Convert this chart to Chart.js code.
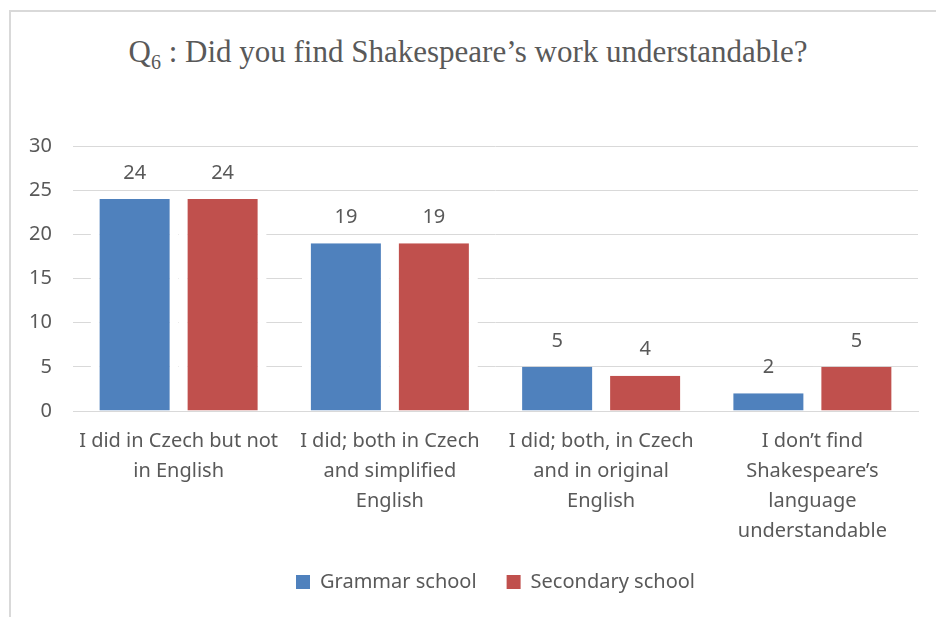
<!DOCTYPE html>
<html>
<head>
<meta charset="utf-8">
<script src="https://cdn.jsdelivr.net/npm/chart.js@4"></script>
<style>
    html, body { margin: 0; padding: 0; background: #fff; }
    #wrap { position: relative; width: 936px; height: 617px; overflow: hidden; }
    #frame { position: absolute; left: 9px; top: 10px; width: 1000px; height: 700px;
             border-left: 2px solid #d9d9d9; border-top: 2px solid #d9d9d9; }
    #title { position: absolute; left: 0; top: 34px; width: 936px; text-align: center;
             font-family: 'Liberation Serif', serif; font-size: 31px; color: #595959; }
    #title sub { font-size: 20px; vertical-align: -7px; line-height: 0; }
    canvas { position: absolute; left: 0; top: 0; }
</style>
</head>
<body>
<div id="wrap">
    <div id="frame"></div>
    <div id="title">Q<sub>6</sub> : Did you find Shakespeare’s work understandable?</div>
    <canvas id="chart-1" width="936" height="617"></canvas>
</div>
<script>
// cau tra loi (nhan truc x, moi dong mot phan tu)
var cauTraLoi = [
    ["I did in Czech but not", "in English"],
    ["I did; both in Czech", "and simplified", "English"],
    ["I did; both, in Czech", "and in original", "English"],
    ["I don’t find", "Shakespeare’s", "language", "understandable"]
];
var grammarSchool = [24, 19, 5, 2];
var secondarySchool = [24, 19, 4, 5];
var yTicks = [0, 5, 10, 15, 20, 25, 30];

var mauChu = "#595959";
var fontChu = "'Noto Sans', 'Open Sans', sans-serif";

// ve so lieu phia tren moi cot
var nhanGiaTri = {
    id: "nhanGiaTri",
    afterDatasetsDraw: function (chart) {
        var ctx = chart.ctx;
        ctx.save();
        ctx.fillStyle = mauChu;
        ctx.font = "20px " + fontChu;
        ctx.textAlign = "center";
        ctx.textBaseline = "middle";
        chart.data.datasets.forEach(function (ds, i) {
            chart.getDatasetMeta(i).data.forEach(function (bar, j) {
                ctx.fillText(ds.data[j], bar.x, bar.y - 26);
            });
        });
        ctx.restore();
    }
};

var ctx = document.getElementById("chart-1").getContext("2d");
var chart = new Chart(ctx, {
    type: "bar",
    data: {
        labels: cauTraLoi,
        datasets: [
            {
                label: "Grammar school",
                data: grammarSchool,
                backgroundColor: "#4f81bd",
                borderColor: "#ffffff",
                borderWidth: { left: 9, right: 9, top: 0, bottom: 0 },
                borderSkipped: false
            },
            {
                label: "Secondary school",
                data: secondarySchool,
                backgroundColor: "#c0504d",
                borderColor: "#ffffff",
                borderWidth: { left: 9, right: 9, top: 0, bottom: 0 },
                borderSkipped: false
            }
        ]
    },
    options: {
        responsive: false,
        animation: false,
        layout: {
            padding: { top: 146, right: 18, bottom: 15, left: 0 }
        },
        datasets: {
            bar: { categoryPercentage: 0.833, barPercentage: 1 }
        },
        scales: {
            x: {
                grid: { display: false, drawTicks: false },
                border: { color: "#d9d9d9", width: 1 },
                ticks: {
                    color: mauChu,
                    font: { family: fontChu, size: 20, lineHeight: 1.5 },
                    padding: 15,
                    maxRotation: 0,
                    autoSkip: false
                },
                afterFit: function (scale) { scale.height = 131; }
            },
            y: {
                min: 0,
                max: 30,
                afterBuildTicks: function (scale) {
                    scale.ticks = yTicks.map(function (v) { return { value: v }; });
                },
                grid: { color: "#d9d9d9", drawTicks: false },
                border: { display: false },
                ticks: {
                    color: mauChu,
                    font: { family: fontChu, size: 20 },
                    padding: 21
                },
                afterFit: function (scale) { scale.width = 73; }
            }
        },
        plugins: {
            legend: {
                position: "bottom",
                fullSize: false,
                labels: {
                    color: mauChu,
                    font: { family: fontChu, size: 20 },
                    boxWidth: 14,
                    boxHeight: 14,
                    padding: 30,
                    useBorderRadius: false,
                    // o mau chu thich khong co vien trang
                    generateLabels: function (chart) {
                        var items = Chart.defaults.plugins.legend.labels.generateLabels(chart);
                        items.forEach(function (it) { it.lineWidth = 0; });
                        return items;
                    }
                }
            },
            tooltip: { enabled: false }
        }
    },
    plugins: [nhanGiaTri]
});
</script>
</body>
</html>
